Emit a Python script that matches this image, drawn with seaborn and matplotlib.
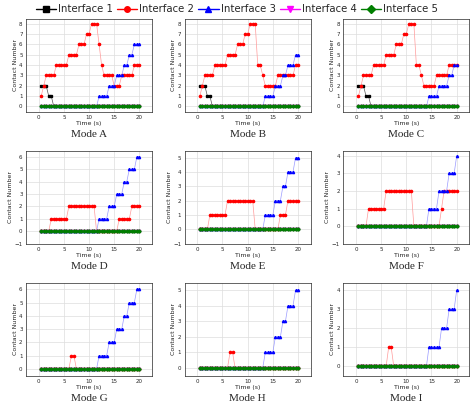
import numpy as np
import matplotlib
matplotlib.use("Agg")
import matplotlib.pyplot as plt
import seaborn as sns
from matplotlib.lines import Line2D

sns.set_style("white")

# time samples, 0.5 s step
time = np.arange(1, 41) * 0.5

# step series, one digit per time sample
ZERO = "0" * 40
MODES = ["A", "B", "C", "D", "E", "F", "G", "H", "I"]
iface1 = {"A": "22211" + "0" * 35, "B": "22211" + "0" * 35, "C": "22211" + "0" * 35}
iface2 = {
    "A": "1233334444455556667788864333322233333444",
    "B": "1233334444455556667788844322222333333344",
    "C": "1233334444455556667788844322222333334444",
    "D": "0000111111122222222222000000000111112222",
    "E": "0000111111122222222222000000000011122222",
    "F": "0000111111122222222222000000000001222222",
    "G": "0" * 12 + "11" + "0" * 26,
    "H": "0" * 12 + "11" + "0" * 26,
    "I": "0" * 12 + "11" + "0" * 26,
}
iface3 = {
    "A": "0" * 23 + "1111" + "222" + "333" + "44" + "55" + "666",
    "B": "0" * 26 + "1111" + "222" + "33" + "444" + "55",
    "C": "0" * 28 + "1111" + "2222" + "33" + "44",
    "D": "0" * 23 + "1111" + "222" + "333" + "44" + "555" + "66",
    "E": "0" * 26 + "1111" + "222" + "33" + "444" + "55",
    "F": "0" * 28 + "1111" + "2222" + "333" + "4",
    "G": "0" * 23 + "1111" + "222" + "333" + "44" + "555" + "66",
    "H": "0" * 26 + "1111" + "222" + "33" + "444" + "55",
    "I": "0" * 28 + "11111" + "222" + "333" + "4",
}
y_limits = {"A": (-0.5, 8.5), "B": (-0.5, 8.5), "C": (-0.5, 8.5),
            "D": (-1, 6.5), "E": (-1, 5.5), "F": (-1, 4.3),
            "G": (-0.5, 6.5), "H": (-0.5, 5.5), "I": (-0.5, 4.4)}
y_ticks = {"A": range(0, 9), "B": range(0, 9), "C": range(0, 9),
           "D": range(-1, 7), "E": range(-1, 6), "F": range(-1, 5),
           "G": range(0, 7), "H": range(0, 6), "I": range(0, 5)}

labels = ["Interface 1", "Interface 2", "Interface 3", "Interface 4", "Interface 5"]
colors = ["black", "red", "blue", "magenta", "#007f00"]
markers = ["s", "o", "^", "v", "D"]
line_colors = ["#555555", "#ff9a9a", "#9a9aff", "#ff9aff", "#66aa66"]

fig, axes = plt.subplots(3, 3, figsize=(4.74, 4.15), dpi=100)
fig.subplots_adjust(left=0.055, right=0.99, top=0.955, bottom=0.095, wspace=0.26, hspace=0.42)

for ax, m in zip(axes.flat, MODES):
    series = [iface1.get(m, ZERO), iface2[m], iface3[m], ZERO, ZERO]
    for s, c, mk, lc in zip(series, colors, markers, line_colors):
        vals = [int(ch) for ch in s]
        sns.lineplot(x=time, y=vals, ax=ax, color=lc, lw=0.5)
        ax.plot(time, vals, ls="none", marker=mk, ms=1.6, color=c, mec=c)
    ax.set_xlim(-2.5, 22.5)
    ax.set_ylim(*y_limits[m])
    ax.set_xticks([0, 5, 10, 15, 20])
    ax.set_yticks(list(y_ticks[m]))
    ax.tick_params(labelsize=4, length=1.5, pad=1)
    ax.grid(True, color="#dddddd", lw=0.5)
    ax.set_xlabel("Time (s)", fontsize=4.5, labelpad=1)
    ax.set_ylabel("Contact Number", fontsize=4.5, labelpad=1)
    for sp in ax.spines.values():
        sp.set_linewidth(0.5)
    ax.text(0.5, -0.2, f"Mode {m}", transform=ax.transAxes, ha="center",
            va="top", fontsize=8, family="Liberation Serif")

handles = [Line2D([0], [0], color=c, marker=mk, ms=4, lw=1) for c, mk in zip(colors, markers)]
fig.legend(handles, labels, loc="upper center", ncol=5, frameon=False,
           fontsize=7.3, bbox_to_anchor=(0.5, 1.012), handlelength=2.0,
           columnspacing=0.4, handletextpad=0.2)

fig.savefig("out.png", dpi=100)
